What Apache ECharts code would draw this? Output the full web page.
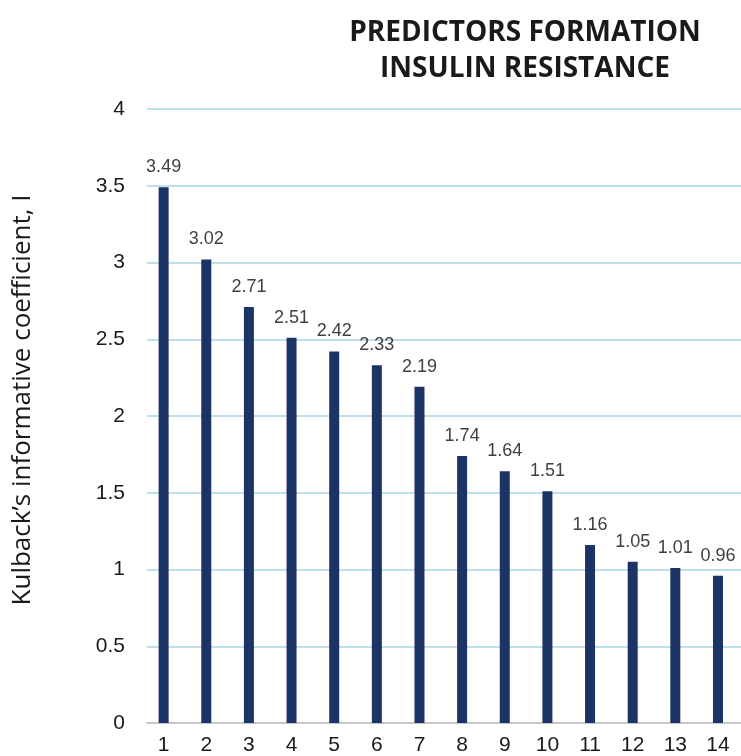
<!DOCTYPE html>
<html>
<head>
<meta charset="utf-8">
<script src="https://cdn.jsdelivr.net/npm/echarts@6/dist/echarts.min.js"></script>
<style>
  html, body { margin: 0; padding: 0; background: #fff; }
  #chart { width: 741px; height: 756px; }
</style>
</head>
<body>
<div id="chart"></div>
<script>
// Predictor numbers and their Kullback informative coefficients
const predictors = [1, 2, 3, 4, 5, 6, 7, 8, 9, 10, 11, 12, 13, 14];
const coefficients = [3.49, 3.02, 2.71, 2.51, 2.42, 2.33, 2.19, 1.74, 1.64, 1.51, 1.16, 1.05, 1.01, 0.96];
const yTicks = [0, 0.5, 1, 1.5, 2, 2.5, 3, 3.5, 4];
const yAxisTitle = "Kulback’s informative coefficient, I";

const chart = echarts.init(document.getElementById('chart'));

chart.setOption({
  animation: false,
  backgroundColor: '#ffffff',
  title: {
    text: 'PREDICTORS FORMATION\nINSULIN RESISTANCE',
    left: 520,
    top: 10,
    textAlign: 'center',
    textStyle: {
      fontFamily: '"Liberation Sans Narrow", "Open Sans", sans-serif',
      fontWeight: 'bold',
      fontSize: 28,
      lineHeight: 36,
      color: '#1a1a1a'
    }
  },
  // vertical axis title, rotated to read bottom-to-top
  graphic: [{
    type: 'text',
    x: 23,
    y: 400,
    rotation: Math.PI / 2,
    style: {
      text: yAxisTitle,
      fontFamily: '"Open Sans", "Noto Sans", sans-serif',
      fontSize: 26,
      fill: '#1a1a1a',
      textAlign: 'center',
      textVerticalAlign: 'middle'
    }
  }],
  grid: { left: 147, right: 0, top: 109, bottom: 29, containLabel: false },
  xAxis: {
    type: 'value',
    min: 0.61,
    max: 14.54,
    splitLine: { show: false },
    axisTick: { show: false },
    axisLine: { show: true, lineStyle: { color: '#c8c8c8', width: 2 } },
    axisLabel: {
      customValues: predictors,
      formatter: v => String(v),
      margin: 12,
      fontFamily: 'Arial, "Liberation Sans", sans-serif',
      fontSize: 21,
      color: '#1a1a1a'
    }
  },
  yAxis: {
    type: 'value',
    min: 0,
    max: 4,
    interval: 0.5,
    axisLine: { show: false },
    axisTick: { show: false },
    splitLine: { lineStyle: { color: '#bfe0ea', width: 2 } },
    axisLabel: {
      customValues: yTicks,
      margin: 22,
      fontFamily: 'Arial, "Liberation Sans", sans-serif',
      fontSize: 21,
      color: '#1a1a1a'
    }
  },
  series: [{
    type: 'bar',
    data: predictors.map((p, i) => [p, coefficients[i]]),
    barWidth: 10,
    itemStyle: { color: '#1c3366' },
    label: {
      show: true,
      position: 'top',
      distance: 11,
      formatter: p => p.value[1].toFixed(2),
      fontFamily: 'Arial, "Liberation Sans", sans-serif',
      fontSize: 18,
      color: '#404040'
    }
  }]
});
</script>
</body>
</html>
